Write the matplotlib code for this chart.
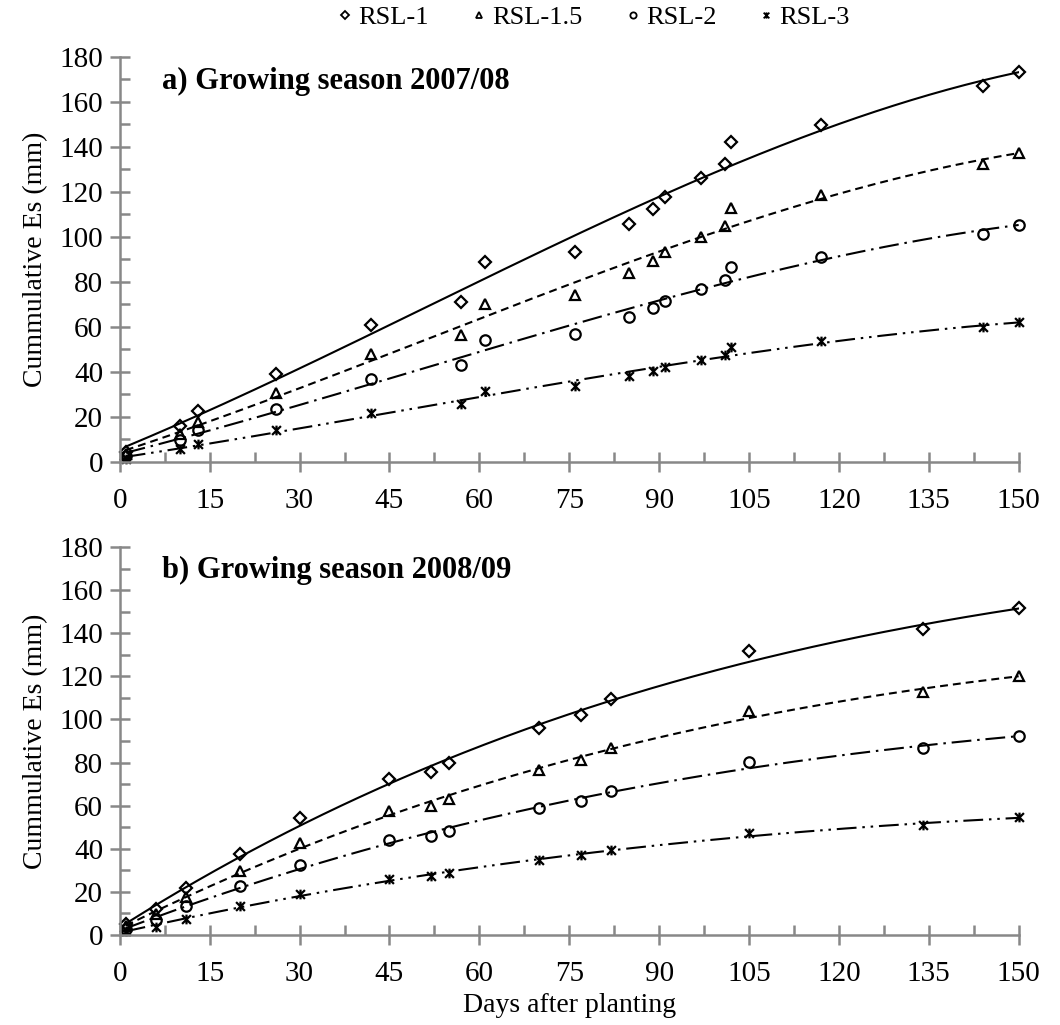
import numpy as np
import matplotlib
matplotlib.use("Agg")
import matplotlib.pyplot as plt
from matplotlib.path import Path
from matplotlib.ticker import MultipleLocator

plt.rcParams['font.family'] = ['Liberation Serif', 'DejaVu Serif']

series_names = ['RSL-1', 'RSL-1.5', 'RSL-2', 'RSL-3']

# growing season 2007/08
days_a = [1, 10, 13, 26, 42, 57, 61, 76, 85, 89, 91, 97, 101, 102, 117, 144, 150]
rsl1_a = [4.5, 16.0, 22.6, 38.9, 60.7, 71.2, 88.8, 93.2, 105.9, 112.5, 117.7, 126.1, 132.5, 142.1, 149.8, 167.0, 173.4]
rsl15_a = [3.5, 12.3, 17.9, 30.6, 47.9, 56.3, 70.4, 74.1, 84.0, 89.4, 93.2, 100.0, 105.1, 112.9, 118.7, 132.5, 137.4]
rsl2_a = [2.5, 9.8, 14.0, 23.6, 36.9, 43.3, 54.1, 57.0, 64.4, 68.4, 71.7, 76.9, 80.7, 86.6, 91.1, 101.5, 105.5]
rsl3_a = [1.5, 5.6, 8.0, 14.0, 21.8, 25.7, 31.7, 33.6, 38.1, 40.3, 42.4, 45.2, 47.4, 51.0, 53.6, 59.8, 62.1]

# growing season 2008/09
days_b = [1, 6, 11, 20, 30, 45, 52, 55, 70, 77, 82, 105, 134, 150]
rsl1_b = [5.0, 12.0, 22.0, 37.8, 54.1, 72.6, 75.7, 79.7, 96.1, 102.0, 109.4, 131.6, 141.8, 151.9]
rsl15_b = [4.0, 9.7, 17.8, 29.7, 42.6, 57.4, 60.0, 63.0, 76.5, 81.1, 86.8, 104.0, 112.8, 120.3]
rsl2_b = [3.0, 6.8, 13.5, 22.8, 32.7, 44.0, 45.9, 48.2, 58.7, 62.3, 66.7, 80.1, 86.6, 92.5]
rsl3_b = [2.0, 3.8, 7.6, 13.3, 19.2, 26.0, 27.3, 28.6, 34.8, 37.0, 39.4, 47.3, 51.0, 54.6]

# star marker: an X with a vertical stroke
star = Path([(-1, -1), (1, 1), (-1, 1), (1, -1), (0, -1.1), (0, 1.1)],
            [Path.MOVETO, Path.LINETO, Path.MOVETO, Path.LINETO, Path.MOVETO, Path.LINETO])

markers = ['D', '^', 'o', star]
msizes = [6, 7, 7.5, 7]
dashes = [None, (3.8, 2.4), (9.5, 2.8, 1.2, 2.8), (9.5, 2.8, 1.2, 2.8, 1.2, 2.8)]
axis_grey = '#888888'

fig = plt.figure(figsize=(10.6, 10.25), dpi=100)
ax_a = fig.add_axes([0.113, 0.5493, 0.848, 0.3951])
ax_b = fig.add_axes([0.113, 0.0878, 0.848, 0.3785])


def draw_panel(ax, days, groups, title):
    x = np.array(days, dtype=float)
    xs = np.linspace(x.min(), 150, 300)
    handles = []
    for vals, mk, ms, ds, name in zip(groups, markers, msizes, dashes, series_names):
        y = np.array(vals)
        coef = np.polyfit(x, y, 3)
        line, = ax.plot(xs, np.polyval(coef, xs), color='black', lw=1.5)
        if ds is not None:
            line.set_dashes(ds)
        h, = ax.plot(x, y, ls='none', marker=mk, ms=ms, mfc='none', mec='black',
                     mew=1.6, label=name, clip_on=False)
        handles.append(h)

    ax.set_xlim(0, 150)
    ax.set_ylim(0, 180)
    ax.xaxis.set_major_locator(MultipleLocator(15))
    ax.xaxis.set_minor_locator(MultipleLocator(7.5))
    ax.yaxis.set_major_locator(MultipleLocator(20))
    ax.yaxis.set_minor_locator(MultipleLocator(10))
    for s in ['top', 'right']:
        ax.spines[s].set_visible(False)
    for s in ['left', 'bottom']:
        ax.spines[s].set_color(axis_grey)
        ax.spines[s].set_linewidth(1.8)
    ax.tick_params(which='major', direction='inout', length=14, width=1.8,
                   color=axis_grey, labelsize=21, pad=5)
    ax.tick_params(which='minor', direction='in', length=7, width=1.8, color=axis_grey)
    ax.tick_params(axis='x', which='major', pad=12)
    ax.set_ylabel('Cummulative Es (mm)', fontsize=20, labelpad=8)
    ax.text(0.047, 0.94, title, transform=ax.transAxes, fontsize=22,
            fontweight='bold', va='center', ha='left')
    return handles


handles = draw_panel(ax_a, days_a, [rsl1_a, rsl15_a, rsl2_a, rsl3_a],
                     'a) Growing season 2007/08')
draw_panel(ax_b, days_b, [rsl1_b, rsl15_b, rsl2_b, rsl3_b],
           'b) Growing season 2008/09')
ax_b.set_xlabel('Days after planting', fontsize=20, labelpad=4)

leg_handles = []
for h in handles:
    hh, = ax_a.plot([], [], ls='none', marker=h.get_marker(), ms=4.5, mfc='none',
                    mec='black', mew=1.3)
    leg_handles.append(hh)
fig.legend(leg_handles, series_names, loc='center', bbox_to_anchor=(0.56, 0.983),
           ncol=4, frameon=False, fontsize=19, handlelength=0.6, handletextpad=0.2,
           columnspacing=1.6)

fig.savefig('out.png', dpi=100)
